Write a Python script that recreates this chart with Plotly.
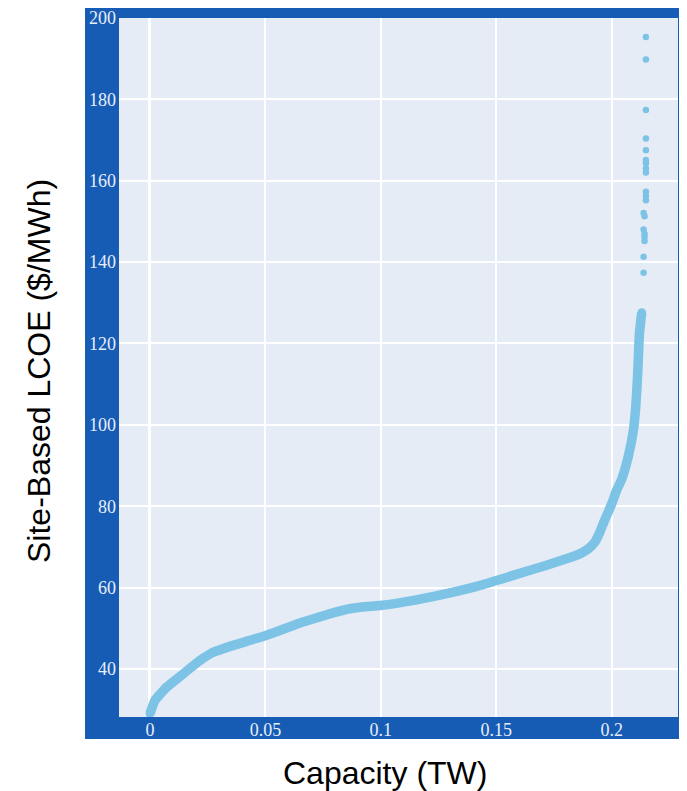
import plotly.graph_objects as go

# ---- data ----
curve_x = [0.0, 0.0022, 0.0072, 0.0144, 0.0217, 0.0274, 0.0361, 0.0505, 0.0650, 0.0736,
           0.0800, 0.0866, 0.0930, 0.0996, 0.1155, 0.1299, 0.1415, 0.1516, 0.1573, 0.1718,
           0.1810, 0.1862, 0.1900, 0.1927, 0.1945, 0.1963, 0.2000, 0.2021, 0.2043, 0.2072,
           0.2094, 0.2104, 0.2111, 0.2116, 0.2120, 0.2130]
curve_y = [29.0, 32.3, 35.5, 38.8, 42.1, 44.1, 45.8, 48.3, 51.3, 52.8,
           53.9, 54.8, 55.3, 55.6, 57.0, 58.7, 60.3, 62.0, 63.0, 65.5,
           67.2, 68.3, 69.6, 71.2, 73.2, 75.7, 80.6, 83.9, 86.6, 92.3,
           98.7, 104.4, 111.0, 117.5, 122.5, 127.6]

dot_x = [0.2148, 0.2148, 0.2148, 0.2148, 0.2148, 0.2148, 0.2148, 0.2148, 0.2148, 0.2148,
         0.2148, 0.2148, 0.2138, 0.2142, 0.2138, 0.2142, 0.2142, 0.2142, 0.2138, 0.2138]
dot_y = [195.3, 189.8, 177.4, 170.4, 167.5, 165.1, 164.3, 163.0, 162.0, 157.3,
         156.2, 155.2, 152.1, 151.3, 148.0, 147.0, 146.2, 145.2, 141.3, 137.4]

x_tickvals = [0, 0.05, 0.1, 0.15, 0.2]
x_ticktext = ["0", "0.05", "0.1", "0.15", "0.2"]
y_tickvals = [40, 60, 80, 100, 120, 140, 160, 180, 200]
y_ticktext = ["40", "60", "80", "100", "120", "140", "160", "180", "200"]

x_title = "Capacity (TW)"
y_title = "Site-Based LCOE ($/MWh)"

# ---- style ----
DOT = "#7cc3e6"
FRAME = "#165cb4"
PLOTBG = "#E5ECF6"
TICKFONT = dict(family="Liberation Serif, Times New Roman, serif", size=18, color="#e8eefa")

fig = go.Figure()
fig.add_trace(go.Scatter(x=curve_x, y=curve_y, mode="lines+markers",
                         line=dict(color=DOT, width=9.5, shape="spline", smoothing=0.4),
                         marker=dict(color=DOT, size=8.5),
                         showlegend=False, hoverinfo="skip"))
fig.add_trace(go.Scatter(x=dot_x, y=dot_y, mode="markers",
                         marker=dict(color=DOT, size=6.5),
                         showlegend=False, hoverinfo="skip"))

# the page has an 8px body margin, so the figure is 8px smaller on each axis
fig.update_layout(
    width=679, height=783,
    margin=dict(l=111, r=9, t=10, b=74, autoexpand=False),
    paper_bgcolor="white",
    plot_bgcolor="rgba(0,0,0,0)",
    shapes=[
        dict(type="rect", xref="paper", yref="paper",
             x0=-0.0608, x1=1.0089, y0=-0.0315, y1=1.0172,
             fillcolor=FRAME, line=dict(width=0), layer="below"),
        dict(type="rect", xref="paper", yref="paper",
             x0=0, x1=1, y0=0, y1=1,
             fillcolor=PLOTBG, line=dict(width=0), layer="below"),
    ],
    annotations=[
        dict(text=x_title, xref="paper", yref="paper", x=0.4758, y=-0.0801,
             xanchor="center", yanchor="middle", showarrow=False,
             font=dict(family="Liberation Sans, Arial, sans-serif", size=32, color="black")),
        dict(text=y_title, xref="paper", yref="paper", x=-0.1431, y=0.495,
             xanchor="center", yanchor="middle", showarrow=False, textangle=-90,
             font=dict(family="Liberation Sans, Arial, sans-serif", size=32, color="black")),
    ],
)

fig.update_xaxes(range=[-0.0134, 0.2287], tickvals=x_tickvals, ticktext=x_ticktext,
                 showgrid=True, gridcolor="white", gridwidth=1.5,
                 zeroline=True, zerolinecolor="white", zerolinewidth=2.5,
                 showline=False, ticks="", tickfont=TICKFONT, automargin=False)
fig.update_yaxes(range=[28.2, 200], tickvals=y_tickvals, ticktext=y_ticktext,
                 showgrid=True, gridcolor="white", gridwidth=1.5,
                 zeroline=False, showline=False, ticks="", tickfont=TICKFONT,
                 ticklabelstandoff=2, automargin=False)

fig.write_html("out.html")
